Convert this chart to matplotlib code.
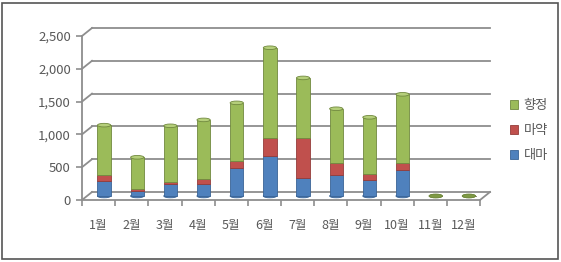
import matplotlib
matplotlib.use("Agg")
import matplotlib.pyplot as plt
import matplotlib.transforms as mtransforms
from matplotlib.patches import Ellipse, Rectangle
import numpy as np

plt.rcParams['font.family'] = ['Noto Sans CJK KR', 'DejaVu Sans']

months = ['1월', '2월', '3월', '4월', '5월', '6월', '7월', '8월', '9월', '10월', '11월', '12월']
daema = [230, 80, 190, 190, 420, 610, 280, 320, 240, 400, 0, 0]      # 대마
mayak = [90, 30, 20, 70, 110, 280, 610, 190, 90, 110, 0, 0]          # 마약
hyangjeong = [760, 480, 860, 900, 890, 1370, 910, 820, 870, 1040, 0, 0]  # 향정
yticks = [0, 500, 1000, 1500, 2000, 2500]
ytick_labels = ['0', '500', '1,000', '1,500', '2,000', '2,500']

c_green = '#9BBB59'
c_red = '#C0504D'
c_blue = '#4F81BD'
grid_c = '#8E8E8E'
text_c = '#595959'

fig = plt.figure(figsize=(5.61, 2.62), dpi=100)
# outer frame
fig.patches.append(Rectangle((2/561, 3/262), 556/561, 256/262, transform=fig.transFigure,
                             fill=False, edgecolor='#555555', linewidth=1.2))

ax = fig.add_axes([82/561, 62/262, 398/561, 164/262])
ax.set_xlim(-0.5, 11.5)
ax.set_ylim(0, 2500)
for s in ax.spines.values():
    s.set_visible(False)

back = mtransforms.offset_copy(ax.transData, fig=fig, x=10, y=8, units='dots')
mid = mtransforms.offset_copy(ax.transData, fig=fig, x=5.5, y=4, units='dots')
inv = ax.transData.inverted()

def diag(xv, yv):
    q0 = inv.transform(ax.transData.transform((xv, yv)))
    q1 = inv.transform(back.transform((xv, yv)))
    ax.plot([q0[0], q1[0]], [q0[1], q1[1]], color=grid_c, lw=1.3, clip_on=False, zorder=1)

# back wall gridlines + left wall diagonals
for yv in yticks:
    ax.plot([-0.5, 11.5], [yv, yv], color=grid_c, lw=1.3, transform=back, clip_on=False, zorder=1)
    diag(-0.5, yv)
# floor: front line and right diagonal
diag(11.5, 0)
ax.plot([-0.5, 11.5], [0, 0], color=grid_c, lw=1.3, clip_on=False, zorder=1)
ax.plot([-0.5, -0.5], [0, 2500], color=grid_c, lw=1.3, clip_on=False, zorder=1)

x = np.arange(len(months))
w = 0.4
daema_a = np.array(daema)
mayak_a = np.array(mayak)
hy_a = np.array(hyangjeong)
ax.bar(x, daema_a, width=w, color=c_blue, edgecolor='#3A6496', linewidth=0.6,
       transform=mid, zorder=3, label='대마')
ax.bar(x, mayak_a, width=w, bottom=daema_a, color=c_red, edgecolor='#943C3A', linewidth=0.6,
       transform=mid, zorder=3, label='마약')
ax.bar(x, hy_a, width=w, bottom=daema_a + mayak_a, color=c_green, edgecolor='#71893F', linewidth=0.6,
       transform=mid, zorder=3, label='향정')
tot = daema_a + mayak_a + hy_a
for xi, t in zip(x, tot):
    ax.add_patch(Ellipse((xi, t), w, 55, transform=mid, facecolor='#B5CF7A' if t > 0 else '#7F9A45',
                         edgecolor='#71893F', linewidth=0.6, zorder=4))
    ax.add_patch(Ellipse((xi, 0), w, 55, transform=mid, facecolor=c_blue if t > 0 else '#7F9A45',
                         edgecolor='#3A6496' if t > 0 else '#71893F', linewidth=0.6, zorder=2))

ax.set_yticks(yticks)
ax.set_yticklabels(ytick_labels)
ax.set_xticks(x)
ax.set_xticklabels(months)
ax.set_xticks(np.arange(-0.5, 12, 1), minor=True)
ax.tick_params(axis='x', which='major', length=0, pad=14, labelsize=9, labelcolor=text_c)
ax.tick_params(axis='x', which='minor', length=4, color=grid_c, width=1.2, direction='out')
ax.tick_params(axis='y', length=4, color=grid_c, width=1.2, pad=4, labelsize=9.5, labelcolor=text_c)

handles, labels = ax.get_legend_handles_labels()
leg = fig.legend(handles[::-1], labels[::-1], loc='upper left', bbox_to_anchor=(505/561, 1 - 94/262),
                 frameon=False, fontsize=9.5, handlelength=0.6, handleheight=0.6,
                 handletextpad=0.4, labelspacing=0.9, borderaxespad=0)
for t in leg.get_texts():
    t.set_color(text_c)

fig.savefig('out.png', dpi=100)
